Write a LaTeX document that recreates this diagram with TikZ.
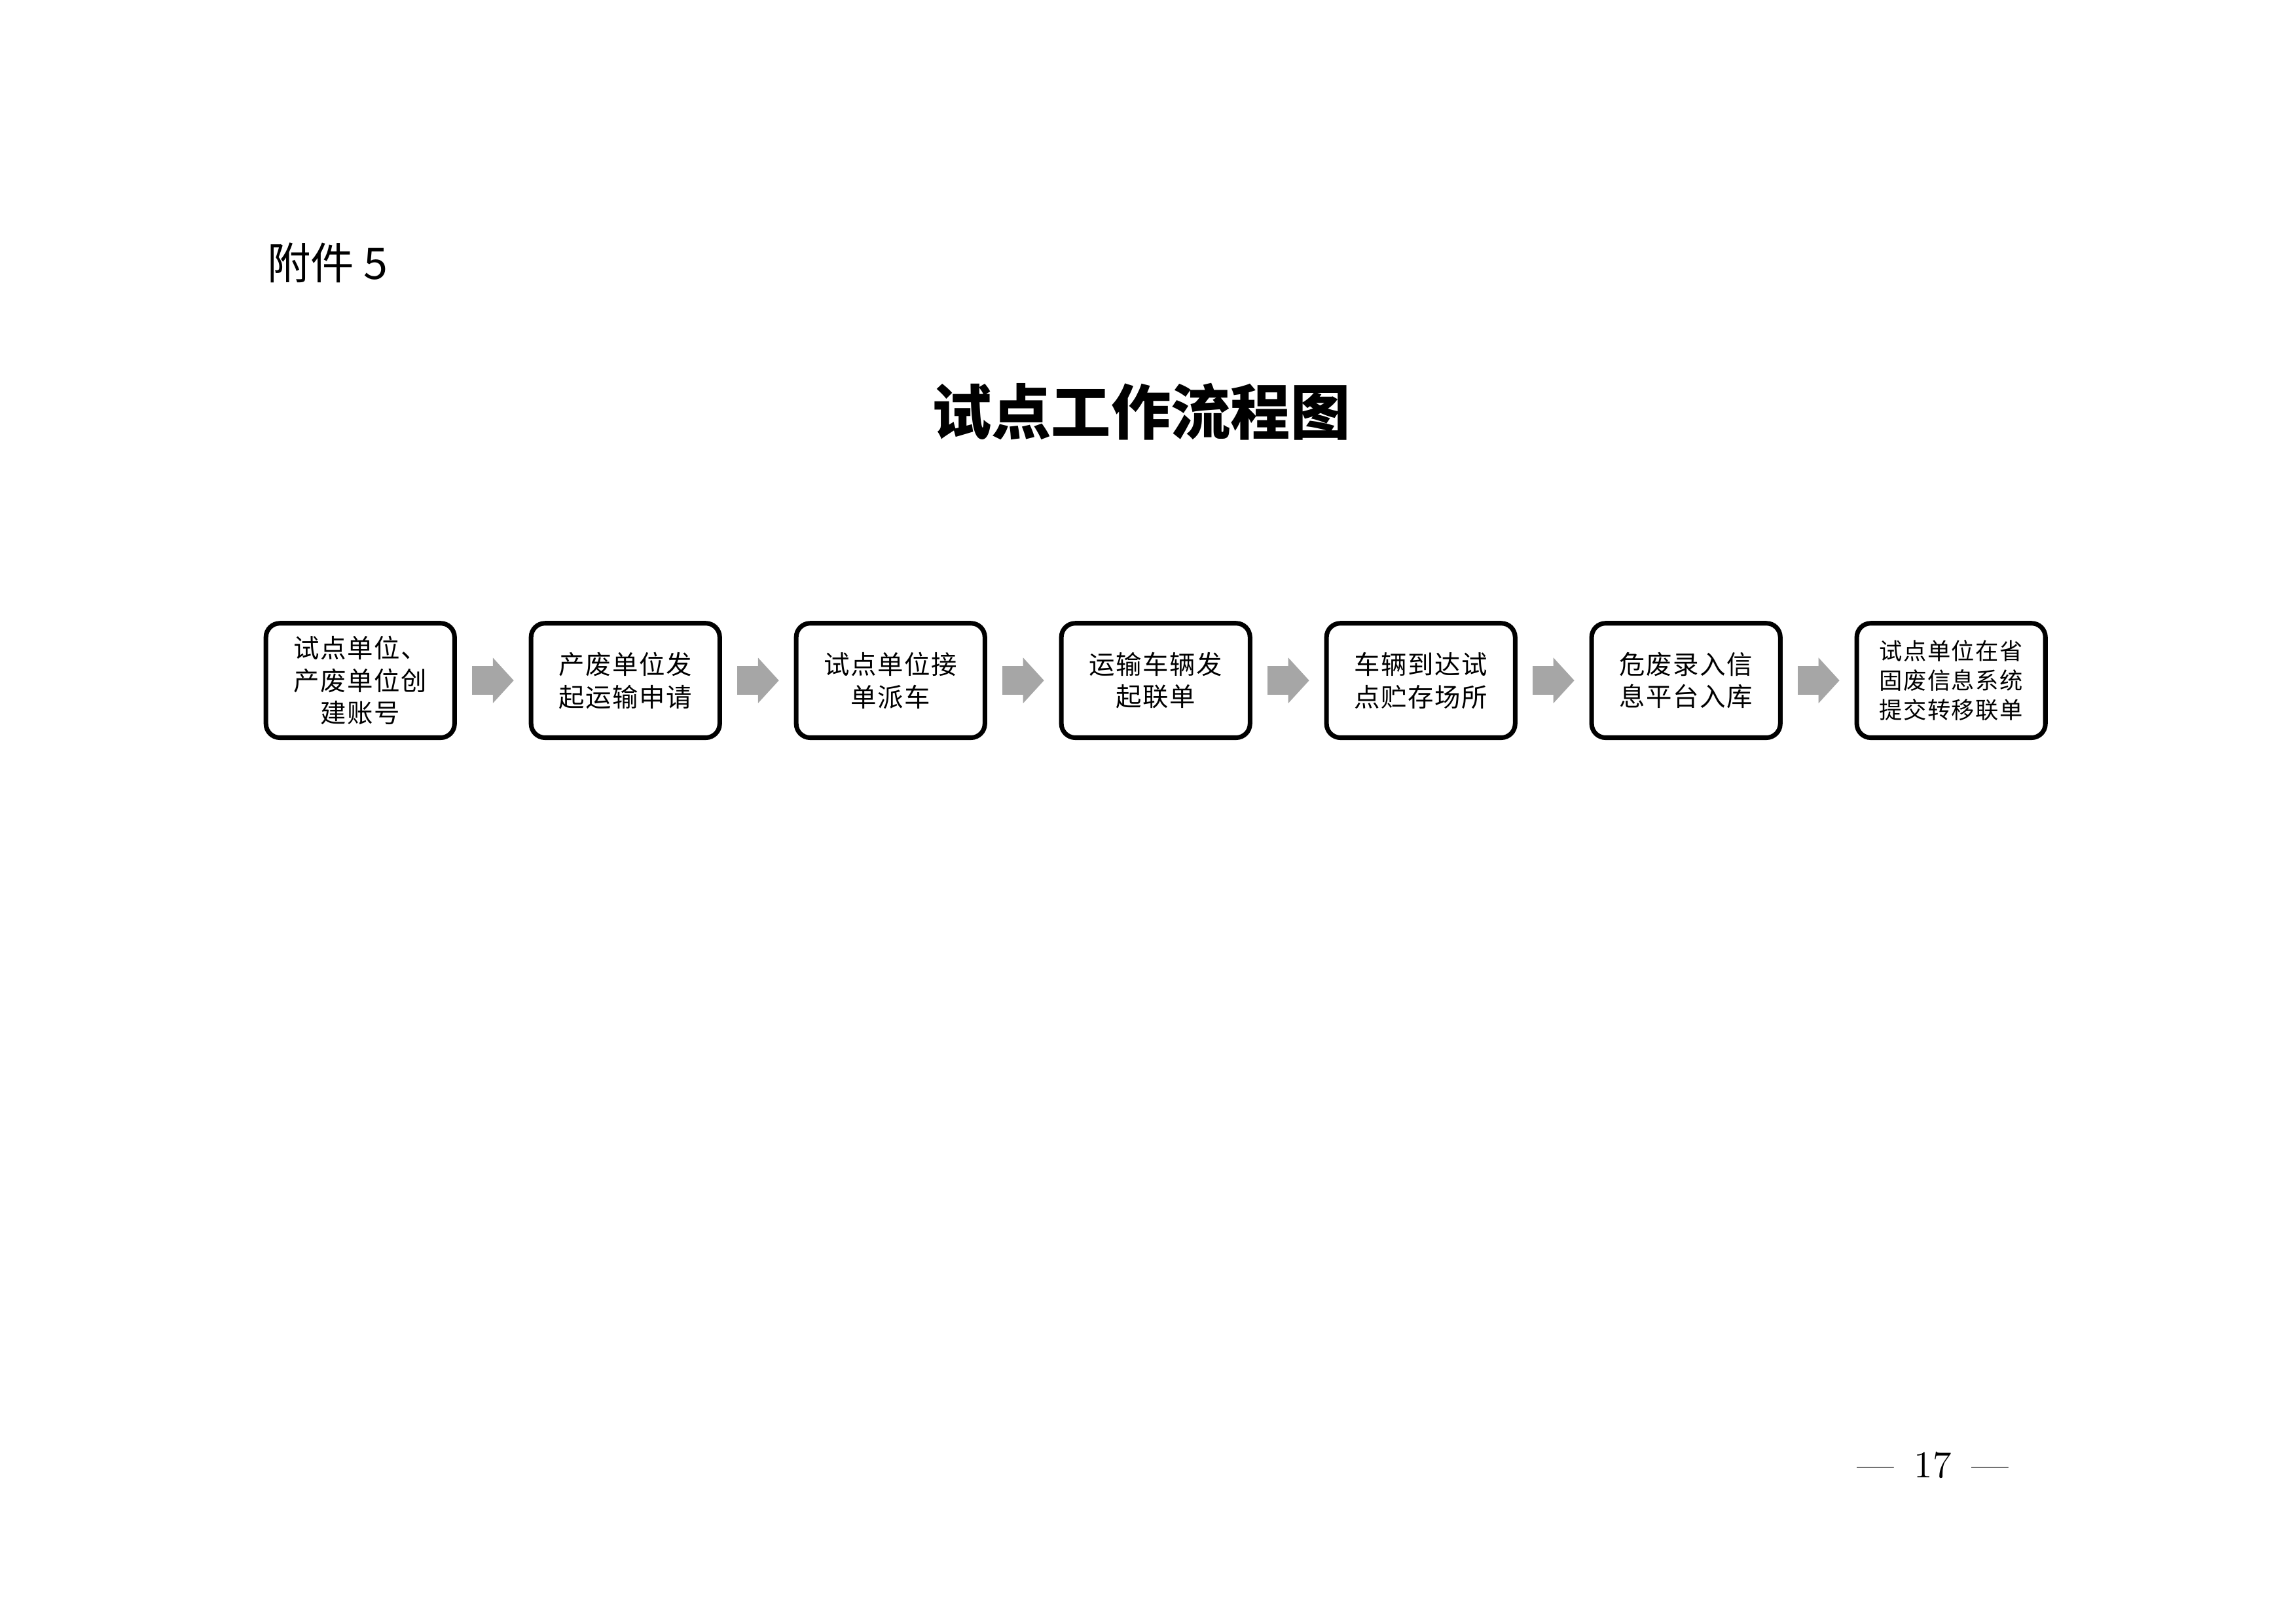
\documentclass[tikz,border=0pt]{standalone}
\usepackage{fontspec}
\newfontfamily\cjk{Noto Sans CJK SC}
\newfontfamily\boxfont{Noto Sans CJK SC}[LetterSpace=4]
\usetikzlibrary{positioning}
\usetikzlibrary{arrows.meta}
\definecolor{arrowgray}{RGB}{166,166,166}

\begin{document}
\begin{tikzpicture}[flownode/.style={rectangle, rounded corners=1.8mm, draw=black, fill=white, line width=1.7pt, minimum width=24.4mm, minimum height=14.8mm, inner sep=0pt, align=center, font=\boxfont\fontsize{9.5pt}{12pt}\selectfont},
smallnode/.style={flownode, font=\boxfont\fontsize{8.5pt}{10.8pt}\selectfont},
flowarrow/.style={draw=arrowgray, line width=3.7mm, shorten <=2mm, shorten >=1.95mm, -{Triangle[length=2.7mm, width=5.9mm, line width=0pt]}},
node distance=9.3mm]
\useasboundingbox (0,-210mm) rectangle (297mm,0);

\node[anchor=west, inner sep=0pt, font=\cjk\fontsize{16pt}{19pt}\selectfont] (fj) at (34.5mm,-34mm) {附件 5};
\node[font=\cjk\bfseries\fontsize{22pt}{26pt}\selectfont] (title) at (147.6mm,-53.2mm) {试点工作流程图};

\node[flownode] (zh) at (46.6mm,-88mm) {试点单位、\\产废单位创\\建账号};
\node[flownode] (sq) [right=of zh] {产废单位发\\起运输申请};
\node[flownode] (pc) [right=of sq] {试点单位接\\单派车};
\node[flownode] (ld) [right=of pc] {运输车辆发\\起联单};
\node[flownode] (dd) [right=of ld] {车辆到达试\\点贮存场所};
\node[flownode] (rk) [right=of dd] {危废录入信\\息平台入库};
\node[smallnode] (tj) [right=of rk] {试点单位在省\\固废信息系统\\提交转移联单};

\draw[flowarrow] (zh.east) -- (sq.west);
\draw[flowarrow] (sq.east) -- (pc.west);
\draw[flowarrow] (pc.east) -- (ld.west);
\draw[flowarrow] (ld.east) -- (dd.west);
\draw[flowarrow] (dd.east) -- (rk.west);
\draw[flowarrow] (rk.east) -- (tj.west);

\node[font=\fontsize{14pt}{17pt}\selectfont] (page) at (250mm,-189.5mm) {---\hspace{2.6mm}17\hspace{2.6mm}---};
\end{tikzpicture}
\end{document}
